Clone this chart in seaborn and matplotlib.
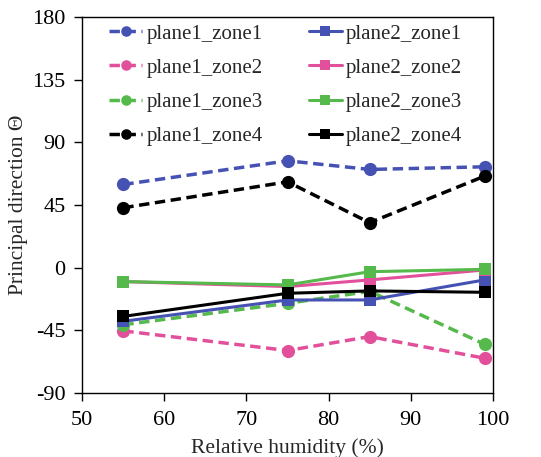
import matplotlib
matplotlib.use("Agg")
import matplotlib.pyplot as plt
import seaborn as sns
import pandas as pd

sns.set_theme(style="ticks")
plt.rcParams['font.family'] = ['Liberation Serif', 'DejaVu Serif']
plt.rcParams['axes.unicode_minus'] = False

humidity = [55, 75, 85, 99]
series_names = ["plane1_zone1", "plane1_zone2", "plane1_zone3", "plane1_zone4",
                "plane2_zone1", "plane2_zone2", "plane2_zone3", "plane2_zone4"]
plane1_zone1 = [59.7, 76.7, 70.5, 72.4]
plane1_zone2 = [-45.4, -59.5, -49.5, -65.0]
plane1_zone3 = [-41.0, -25.6, -17.0, -55.0]
plane1_zone4 = [43.0, 61.6, 32.3, 65.7]
plane2_zone1 = [-38.5, -23.2, -23.2, -8.8]
plane2_zone2 = [-10.0, -13.6, -8.8, -1.7]
plane2_zone3 = [-10.0, -12.4, -2.9, -1.2]
plane2_zone4 = [-35.0, -18.4, -16.7, -17.7]
values = [plane1_zone1, plane1_zone2, plane1_zone3, plane1_zone4,
          plane2_zone1, plane2_zone2, plane2_zone3, plane2_zone4]

colors = {"zone1": "#4552b3", "zone2": "#e2509c", "zone3": "#55b94b", "zone4": "#000000"}

rows = []
for name, vals in zip(series_names, values):
    for h, v in zip(humidity, vals):
        rows.append({"series": name, "humidity": h, "angle": v})
df = pd.DataFrame(rows)

fig = plt.figure(figsize=(5.41, 4.57), dpi=100)
ax = fig.add_axes([0.152, 0.140, 0.759, 0.823])

handles = []
for name in series_names:
    plane, zone = name.split("_")
    sub = df[df["series"] == name]
    dashed = plane == "plane1"
    sns.lineplot(data=sub, x="humidity", y="angle", ax=ax,
                 color=colors[zone], linewidth=2.5 if dashed else 2.2,
                 marker="o" if dashed else "s", markersize=9.5 if dashed else 8.5,
                 markeredgewidth=0, dashes=False, estimator=None, sort=False,
                 label=name)
    line = ax.get_lines()[-1]
    if dashed:
        line.set_linestyle((0, (3, 1.6)))
    handles.append(line)

ax.set_xlim(50, 100)
ax.set_ylim(-90, 180)
ax.set_xticks(range(50, 101, 10))
ax.set_yticks(range(-90, 181, 45))
ax.tick_params(direction="out", labelsize=16, length=6, width=1, colors="black")
ax.tick_params(axis="x", pad=7)
ax.tick_params(axis="y", pad=6)
for s in ax.spines.values():
    s.set_color("black")
    s.set_linewidth(1)
ax.set_xlabel("Relative humidity (%)", fontsize=15.5, labelpad=6)
ax.set_ylabel("Principal direction Θ", fontsize=15.5, labelpad=3)

ax.legend(handles=handles, labels=series_names, ncol=2, loc="upper left",
          bbox_to_anchor=(0.03, 1.02), frameon=False, fontsize=15,
          handlelength=1.6, handletextpad=0.2, columnspacing=2.2,
          labelspacing=0.7, borderaxespad=0.3, markerscale=0.8)

fig.savefig("out.png", dpi=100)
